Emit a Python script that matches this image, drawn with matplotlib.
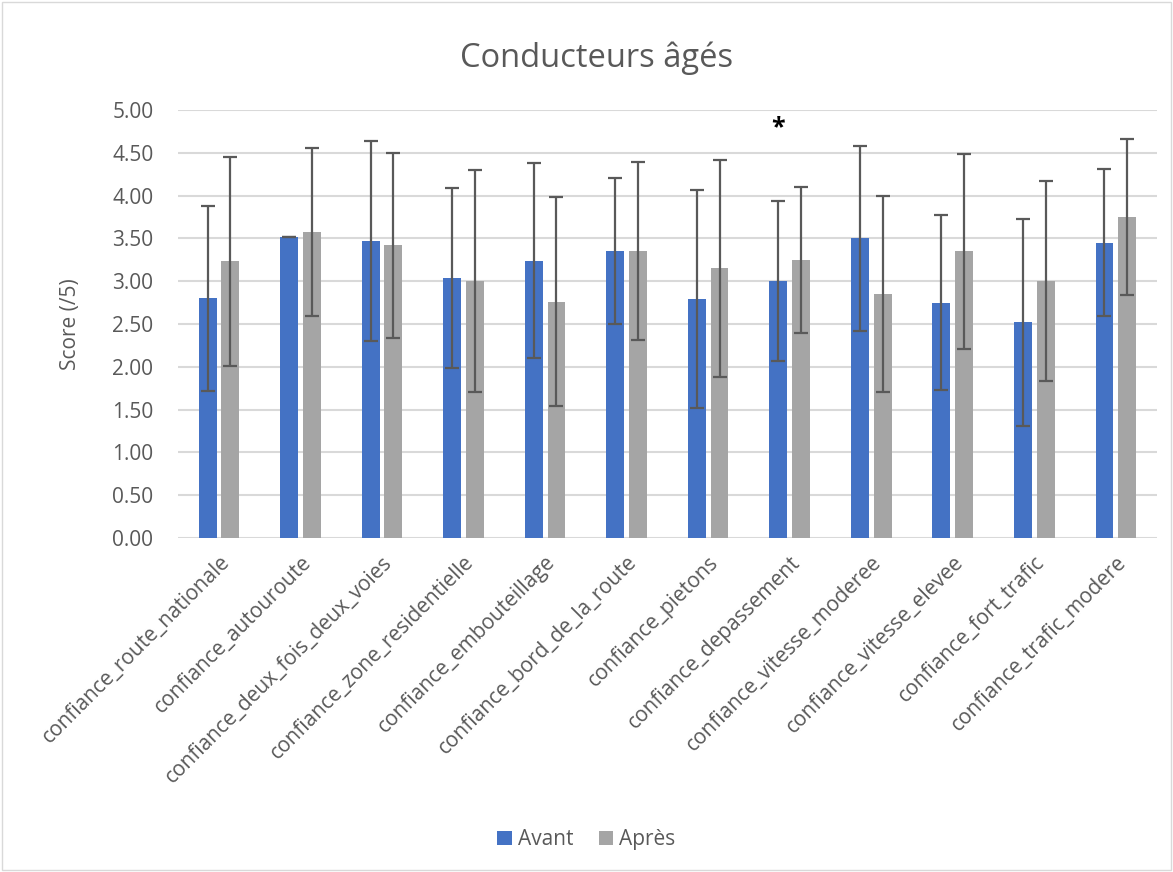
import numpy as np
import matplotlib.pyplot as plt
from matplotlib.patches import Rectangle

plt.rcParams['font.family'] = ['Open Sans', 'DejaVu Sans']

categories = ['confiance_route_nationale', 'confiance_autouroute', 'confiance_deux_fois_deux_voies',
              'confiance_zone_residentielle', 'confiance_embouteillage', 'confiance_bord_de_la_route',
              'confiance_pietons', 'confiance_depassement', 'confiance_vitesse_moderee',
              'confiance_vitesse_elevee', 'confiance_fort_trafic', 'confiance_trafic_modere']
avant = [2.80, 3.52, 3.47, 3.04, 3.24, 3.35, 2.79, 3.00, 3.50, 2.75, 2.52, 3.45]
apres = [3.23, 3.57, 3.42, 3.00, 2.76, 3.35, 3.15, 3.25, 2.85, 3.35, 3.00, 3.75]
avant_err = [1.08, 0.0, 1.17, 1.05, 1.14, 0.85, 1.27, 0.93, 1.08, 1.02, 1.21, 0.86]
apres_err = [1.22, 0.98, 1.08, 1.30, 1.22, 1.04, 1.27, 0.85, 1.14, 1.14, 1.17, 0.91]
yticks = [0, 0.5, 1, 1.5, 2, 2.5, 3, 3.5, 4, 4.5, 5]

txt = '#595959'
fig = plt.figure(figsize=(11.73, 8.72), dpi=100)
ax = fig.add_axes([0.152, 0.383, 0.834, 0.491])

x = np.arange(len(categories))
w = 0.22
ekw = dict(ecolor='#595959', elinewidth=1.6, capsize=4.8, capthick=1.6)
ax.bar(x - 0.139, avant, w, color='#4472c4', label='Avant', yerr=avant_err, error_kw=ekw, zorder=3)
ax.bar(x + 0.139, apres, w, color='#a5a5a5', label='Après', yerr=apres_err, error_kw=ekw, zorder=3)

# significance marker
ax.text(x[7] - 0.139, 4.79, '*', ha='center', va='center', fontsize=18, fontweight='bold', color='black')

ax.set_xlim(-0.5, len(categories) - 0.5)
ax.set_ylim(0, 5)
ax.set_yticks(yticks)
ax.set_yticklabels([f'{v:.2f}' for v in yticks], fontsize=15, color=txt)
ax.set_xticks(x)
ax.set_xticklabels(categories, rotation=45, ha='right', rotation_mode='anchor', fontsize=15, color=txt)
ax.tick_params(axis='y', length=0, pad=18)
ax.tick_params(axis='x', length=0, pad=10)
ax.yaxis.grid(True, color='#d9d9d9', linewidth=1.5, zorder=0)
ax.set_axisbelow(True)
for s in ax.spines.values():
    s.set_visible(False)
ax.set_ylabel('Score (/5)', fontsize=15, color=txt, labelpad=22)

fig.text(0.509, 0.933, 'Conducteurs âgés', ha='center', va='center', fontsize=23.5, color=txt)
fig.legend(loc='center', bbox_to_anchor=(0.5, 0.037), ncol=2, frameon=False, fontsize=15,
           handlelength=0.7, handleheight=0.7, handletextpad=0.3, columnspacing=1.2, labelcolor=txt)
fig.patches.append(Rectangle((0.002, 0.002), 0.996, 0.996, transform=fig.transFigure,
                             fill=False, edgecolor='#d9d9d9', linewidth=1))

fig.savefig('out.png', dpi=100, facecolor='white')
